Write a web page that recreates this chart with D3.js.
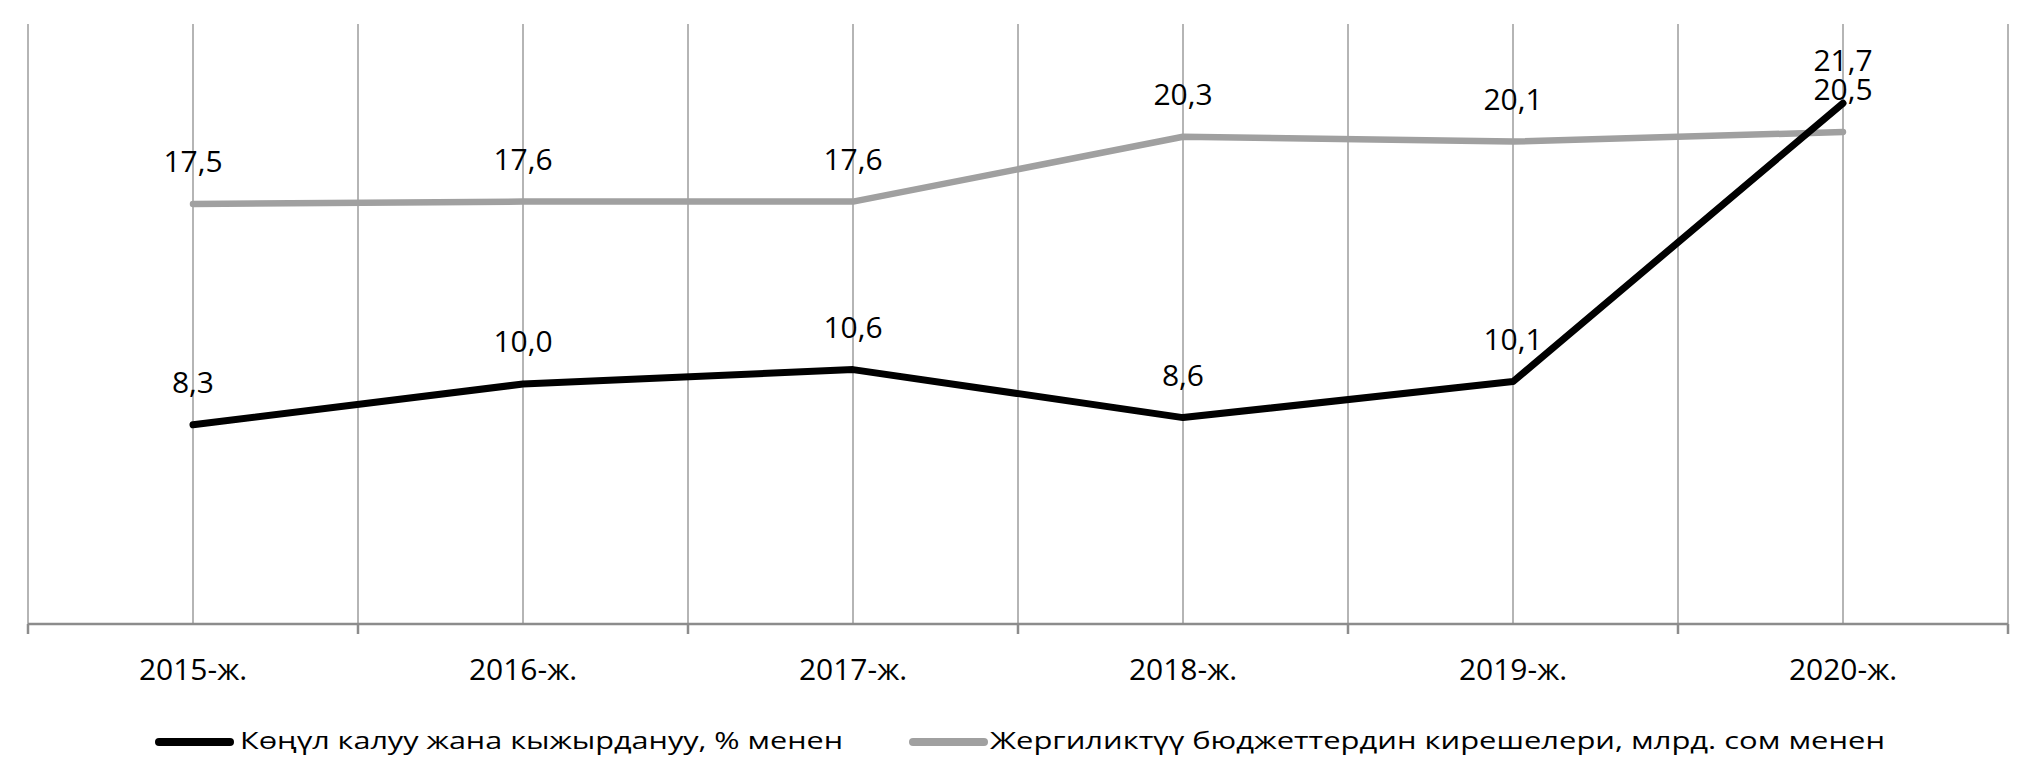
<!DOCTYPE html>
<html>
<head>
<meta charset="utf-8">
<script src="https://cdn.jsdelivr.net/npm/d3@7/dist/d3.min.js"></script>
<style>
  html, body { margin: 0; padding: 0; background: #fff; }
  svg { display: block; }
  text { font-family: "Open Sans", "Noto Sans", sans-serif; fill: #000; }
</style>
</head>
<body>
<svg id="chart" width="2029" height="776"></svg>
<script>
const categories = ["2015-ж.", "2016-ж.", "2017-ж.", "2018-ж.", "2019-ж.", "2020-ж."];
const frustration = [8.3, 10.0, 10.6, 8.6, 10.1, 21.7];
const localRevenue = [17.5, 17.6, 17.6, 20.3, 20.1, 20.5];
const seriesNames = ["Көңүл калуу жана кыжырдануу, % менен", "Жергиликтүү бюджеттердин кирешелери, млрд. сом менен"];
const seriesColors = ["#000000", "#a0a0a0"];

(function () {
const svg = d3.select("#chart");
const pLeft = 28, pRight = 2008, pTop = 24, pBottom = 624;

const x = d3.scaleBand().domain(categories).range([pLeft, pRight]).padding(0);
const y = d3.scaleLinear().domain([0, 25]).range([pBottom, pTop]);
const cx = c => x(c) + x.bandwidth() / 2;

// gridlines: at band boundaries and category centres
const boundaries = categories.map(c => x(c)).concat([pRight]);
const gridG = svg.append("g");
gridG.selectAll("line.b").data(boundaries).enter().append("line")
  .attr("x1", d => d).attr("x2", d => d)
  .attr("y1", pTop).attr("y2", pBottom)
  .attr("stroke", "#b5b5b5").attr("stroke-width", 2);
gridG.selectAll("line.c").data(categories).enter().append("line")
  .attr("x1", d => cx(d)).attr("x2", d => cx(d))
  .attr("y1", pTop).attr("y2", pBottom)
  .attr("stroke", "#b5b5b5").attr("stroke-width", 2);

// x axis
const axisG = svg.append("g").attr("transform", `translate(0,${pBottom})`);
axisG.append("line").attr("x1", pLeft).attr("x2", pRight).attr("y1", 0).attr("y2", 0)
  .attr("stroke", "#8c8c8c").attr("stroke-width", 2.5);
axisG.selectAll("line.t").data(boundaries).enter().append("line")
  .attr("x1", d => d).attr("x2", d => d).attr("y1", 0).attr("y2", 10)
  .attr("stroke", "#8c8c8c").attr("stroke-width", 2.5);
axisG.selectAll("text").data(categories).enter().append("text")
  .attr("x", d => cx(d)).attr("y", 56)
  .attr("text-anchor", "middle").attr("font-size", 30)
  .text(d => d);

// lines
const series = [localRevenue, frustration];
const colors = [seriesColors[1], seriesColors[0]];
const widths = [6.5, 7];
const line = d3.line().x((d, i) => cx(categories[i])).y(d => y(d));
series.forEach((s, k) => {
  svg.append("path").datum(s).attr("d", line)
    .attr("fill", "none").attr("stroke", colors[k]).attr("stroke-width", widths[k])
    .attr("stroke-linecap", "round").attr("stroke-linejoin", "round");
});

// data labels
const fmt = v => v.toFixed(1).replace(".", ",");
[frustration, localRevenue].forEach(s => {
  svg.append("g").selectAll("text").data(s).enter().append("text")
    .attr("x", (d, i) => cx(categories[i]))
    .attr("y", d => y(d) - 32)
    .attr("text-anchor", "middle").attr("font-size", 30)
    .text(d => fmt(d));
});

// legend
const legend = [
  { name: seriesNames[0], color: seriesColors[0], lx1: 159, lx2: 230, tx: 240, tw: 603 },
  { name: seriesNames[1], color: seriesColors[1], lx1: 913, lx2: 984, tx: 990, tw: 895 }
];
const lg = svg.append("g");
legend.forEach(l => {
  lg.append("line").attr("x1", l.lx1).attr("x2", l.lx2).attr("y1", 742).attr("y2", 742)
    .attr("stroke", l.color).attr("stroke-width", 8).attr("stroke-linecap", "round");
  lg.append("text").attr("x", l.tx).attr("y", 749).attr("font-size", 23)
    .attr("textLength", l.tw).attr("lengthAdjust", "spacingAndGlyphs")
    .text(l.name);
});
})();
</script>
</body>
</html>
